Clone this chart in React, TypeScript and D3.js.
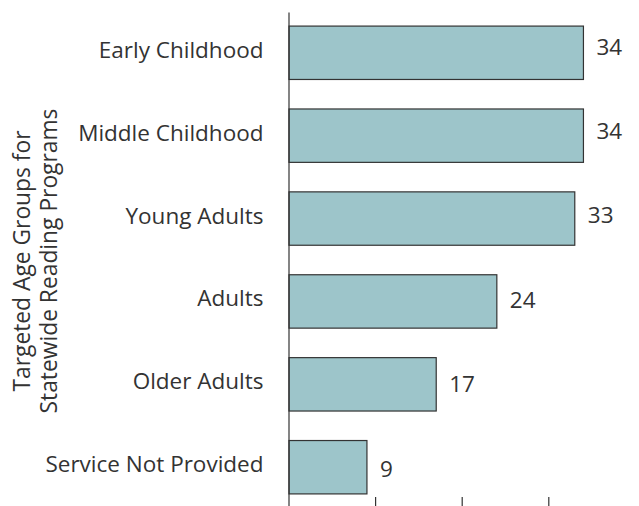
import React from "react";
import * as d3 from "d3";

const categories = [
  "Early Childhood",
  "Middle Childhood",
  "Young Adults",
  "Adults",
  "Older Adults",
  "Service Not Provided",
];
const values = [34, 34, 33, 24, 17, 9];
const tickValues = [0, 10, 20, 30];
const titleLines = ["Targeted Age Groups for", "Statewide Reading Programs"];

const W = 639;
const H = 506;
const x0 = 289;
const labelFont = "'Open Sans', Lato, sans-serif";
const titleFont = "'Open Sans', Lato, sans-serif";
const fs = 22.5;
const capHalf = fs * 0.357;

export default function App() {
  const x = d3.scaleLinear().domain([0, 10]).range([x0, x0 + 86.6]);
  const y = d3
    .scaleBand<string>()
    .domain(categories)
    .range([12, 508])
    .paddingInner(0.356)
    .paddingOuter(0.17);
  const yVal = d3.scalePoint<string>().domain(categories).range([46.5, 468.5]);
  const axisBottom = 497;
  return (
    <svg
      width={W}
      height={H}
      style={{ position: "absolute", left: 0, top: 0, background: "#fff" }}
    >
      {categories.map((c, i) => {
        const yy = y(c)!;
        const bw = y.bandwidth();
        return (
          <g key={c}>
            <rect
              x={x(0)}
              y={yy}
              width={x(values[i]) - x(0)}
              height={bw}
              fill="#9dc5ca"
              stroke="#333"
              strokeWidth={1.2}
            />
            <text
              x={263.5}
              y={yy + bw / 2 - 3 + capHalf}
              textAnchor="end"
              fontFamily={labelFont}
              fontSize={fs}
              fill="#333"
            >
              {c}
            </text>
            <text
              x={x(values[i]) + 13}
              y={yVal(c)! + capHalf}
              fontFamily={labelFont}
              fontSize={fs}
              fill="#333"
            >
              {values[i]}
            </text>
          </g>
        );
      })}
      <line x1={x0} x2={x0} y1={12.5} y2={axisBottom} stroke="#333" strokeWidth={1.2} />
      {tickValues.map((t) => (
        <line
          key={t}
          x1={x(t)}
          x2={x(t)}
          y1={axisBottom}
          y2={axisBottom + 10}
          stroke="#333"
          strokeWidth={1.2}
        />
      ))}
      <text
        transform="translate(29.5,261) rotate(-90)"
        textAnchor="middle"
        fontFamily={titleFont}
        fontSize={22.8}
        fill="#333"
      >
        <tspan x={0} y={0}>{titleLines[0]}</tspan>
        <tspan x={0} y={27.5}>{titleLines[1]}</tspan>
      </text>
    </svg>
  );
}
